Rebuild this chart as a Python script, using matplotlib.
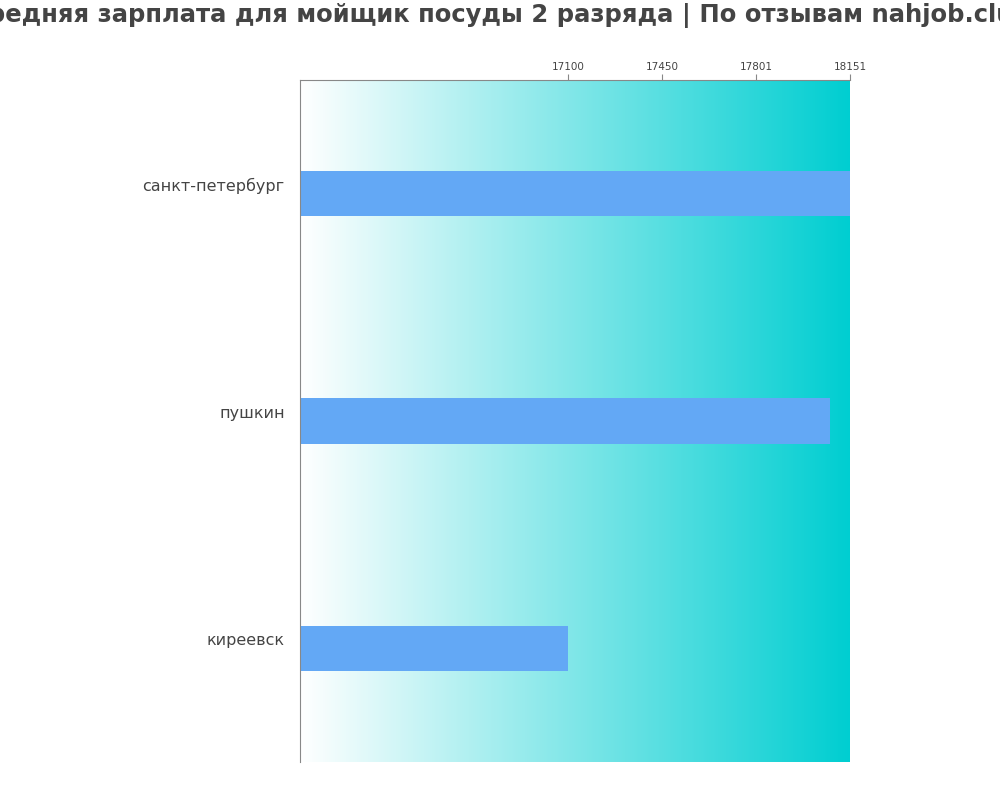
import numpy as np
import matplotlib
matplotlib.use('Agg')
import matplotlib.pyplot as plt
from matplotlib.colors import LinearSegmentedColormap

cities = ['санкт-петербург', 'пушкин', 'киреевск']
salaries = [18151, 18076, 17100]
ticks = [17100, 17450, 17801, 18151]
xmin, xmax = 16100, 18151

fig = plt.figure(figsize=(10, 8), dpi=100)
ax = fig.add_axes([0.3, 0.0475, 0.55, 0.8525])

cmap = LinearSegmentedColormap.from_list('g', ['#ffffff', '#00ced1'])
grad = np.linspace(0, 1, 256).reshape(1, -1)
ax.imshow(grad, cmap=cmap, aspect='auto', extent=[xmin, xmax, 2.5, -0.5], zorder=0)

y = np.arange(len(cities))
ax.barh(y, [s - xmin for s in salaries], left=xmin, height=0.2, color='#63a8f5', zorder=2)

ax.set_xlim(xmin, xmax)
ax.set_ylim(2.5, -0.5)
ax.set_yticks(y)
ax.set_yticklabels(cities, fontsize=11.5, color='#444444', va='bottom')
ax.xaxis.tick_top()
ax.set_xticks(ticks)
ax.set_xticklabels([str(t) for t in ticks], fontsize=7.5, color='#444444')
ax.tick_params(axis='y', length=0, pad=11)
ax.tick_params(axis='x', length=4, color='#888888', pad=2)
for s in ['right', 'bottom']:
    ax.spines[s].set_visible(False)
for s in ['left', 'top']:
    ax.spines[s].set_color('#888888')

fig.text(0.5, 0.98, 'Средняя зарплата для мойщик посуды 2 разряда | По отзывам nahjob.club',
         ha='center', va='center', fontsize=17.5, fontweight='bold', color='#444444')

fig.savefig('out.png')
